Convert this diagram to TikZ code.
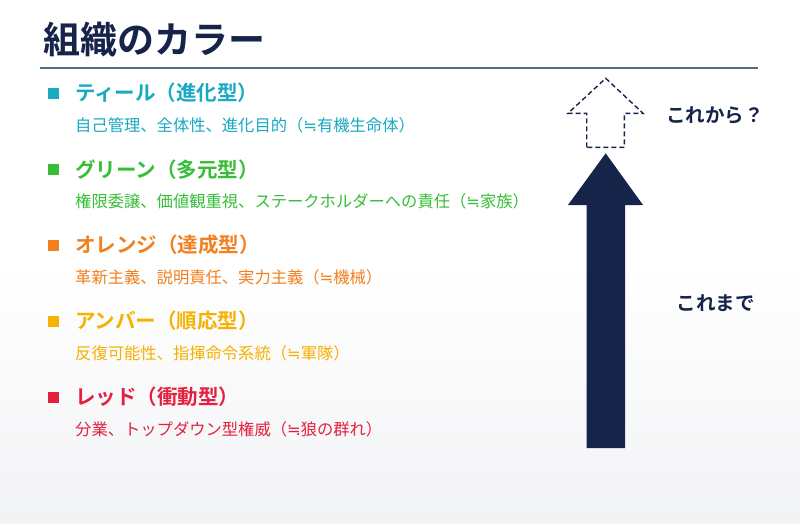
\documentclass[tikz,border=0pt]{standalone}
\usepackage{fontspec}
\setmainfont{Noto Sans CJK JP}[BoldFont={Noto Sans CJK JP Bold}]
\newfontfamily\dvfont{DejaVu Sans}
\newcommand{\approxeq}{{\dvfont ≒}}
\definecolor{navy}{HTML}{16244A}
\definecolor{rulec}{HTML}{4F6F86}
\definecolor{teal}{HTML}{19A9C2}
\definecolor{grn}{HTML}{36BE36}
\definecolor{org}{HTML}{F2801E}
\definecolor{amb}{HTML}{F6B102}
\definecolor{rd}{HTML}{E3213F}
\definecolor{bgbot}{HTML}{F2F3F5}
\tikzset{
  head/.style={anchor=base west, inner sep=0pt, font=\fontsize{20.5}{20}\selectfont\bfseries},
  sub/.style={anchor=base west, inner sep=0pt, font=\fontsize{16.3}{16}\selectfont},
  bullet/.style={minimum size=11pt, inner sep=0pt, draw=none},
  side/.style={anchor=base west, inner sep=0pt, text=navy, font=\fontsize{19.5}{19}\selectfont\bfseries},
}
\begin{document}
\begin{tikzpicture}[x=1pt,y=-1pt]
\useasboundingbox (0,0) rectangle (800,523);
\shade[top color=white, bottom color=bgbot, middle color=white] (0,0) rectangle (800,523);
% title
\node[anchor=base west, inner sep=0pt, text=navy, font=\fontsize{37}{37}\selectfont\bfseries] (title) at (43,53) {組織のカラー};
\coordinate (rl) at (40,68);
\coordinate (rr) at (758,68);
\draw[rulec, line width=1.3pt] (rl) -- (rr);
% items
\foreach \c/\y/\h/\s/\n in {
 teal/93/ティール（進化型）/自己管理、全体性、進化目的（\approxeq 有機生命体）/t,
 grn/169.5/グリーン（多元型）/権限委譲、価値観重視、ステークホルダーへの責任（\approxeq 家族）/g,
 org/245/オレンジ（達成型）/革新主義、説明責任、実力主義（\approxeq 機械）/o,
 amb/321/アンバー（順応型）/反復可能性、指揮命令系統（\approxeq 軍隊）/a,
 rd/397/レッド（衝動型）/分業、トップダウン型権威（\approxeq 狼の群れ）/r}
{
  \node[bullet, fill=\c] (b\n) at (53.5,\y) {};
  \node[head, text=\c] (h\n) at (75,\y+7.5) {\h};
  \node[sub, text=\c] (s\n) at (75,\y+38) {\s};
}
% solid arrow
\fill[navy] (586.7,448) -- (586.7,205) -- (568,205) -- (605.7,153.3) -- (643,205) -- (625,205) -- (625,448) -- cycle;
% dashed arrow
\draw[navy, line width=1.4pt, dash pattern=on 5pt off 3pt] (586.7,147.3) -- (586.7,113.3) -- (568,113.3) -- (605.7,78.3) -- (643,113.3) -- (624.3,113.3) -- (624.3,147.3) -- cycle;
\node[side] (future) at (666,122) {これから？};
\node[side] (past) at (676.5,310) {これまで};
\end{tikzpicture}
\end{document}
